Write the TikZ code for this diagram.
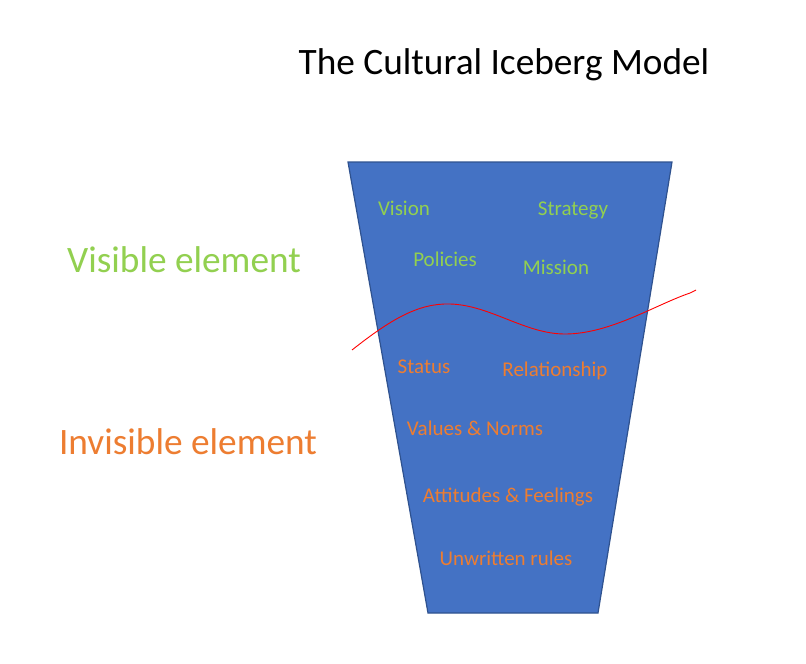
\documentclass[tikz,border=0pt]{standalone}
\usepackage{fontspec}
\setmainfont{Carlito}
\definecolor{iceblue}{HTML}{4472C4}
\definecolor{iceedge}{HTML}{2F528F}
\definecolor{visgreen}{HTML}{92D050}
\definecolor{invorange}{HTML}{ED7D31}
\begin{document}
\begin{tikzpicture}[x=1pt,y=-1pt,
  big/.style={font=\fontsize{37.3}{40}\selectfont, inner sep=0pt},
  greenlbl/.style={text=visgreen, font=\fontsize{21}{23}\selectfont, inner sep=0pt},
  orangelbl/.style={text=invorange, font=\fontsize{21}{23}\selectfont, inner sep=0pt}]
\useasboundingbox (0,0) rectangle (806,664);
\fill[white] (0,0) rectangle (806,664);
% iceberg trapezoid
\draw[fill=iceblue, draw=iceedge, line width=1.2pt] (348,162) -- (672,162) -- (598,613) -- (428,613) -- cycle;
% title and side labels
\node[big] (title) at (504,65) {The Cultural Iceberg Model};
\node[big, text=visgreen] (vis) at (184,260) {Visible element};
\node[big, text=invorange] (invis) at (188,442) {Invisible element};
% visible items
\node[greenlbl] (vision) at (404,208) {Vision};
\node[greenlbl] (strategy) at (573,210) {Strategy};
\node[greenlbl] (policies) at (445,259) {Policies};
\node[greenlbl] (mission) at (556,267) {Mission};
% invisible items
\node[orangelbl] (status) at (424,367) {Status};
\node[orangelbl] (relation) at (555,371) {Relationship};
\node[orangelbl] (values) at (475,428) {Values \& Norms};
\node[orangelbl] (attitudes) at (508,497) {Attitudes \& Feelings};
\node[orangelbl] (unwritten) at (506,558) {Unwritten rules};
% waterline
\draw[red, line width=0.9pt] (352,350) .. controls (390,320) and (418,303) .. (450,304)
  .. controls (490,305) and (525,334) .. (565,334)
  .. controls (610,334) and (655,305) .. (690,293)
  -- (696,290);
\end{tikzpicture}
\end{document}
